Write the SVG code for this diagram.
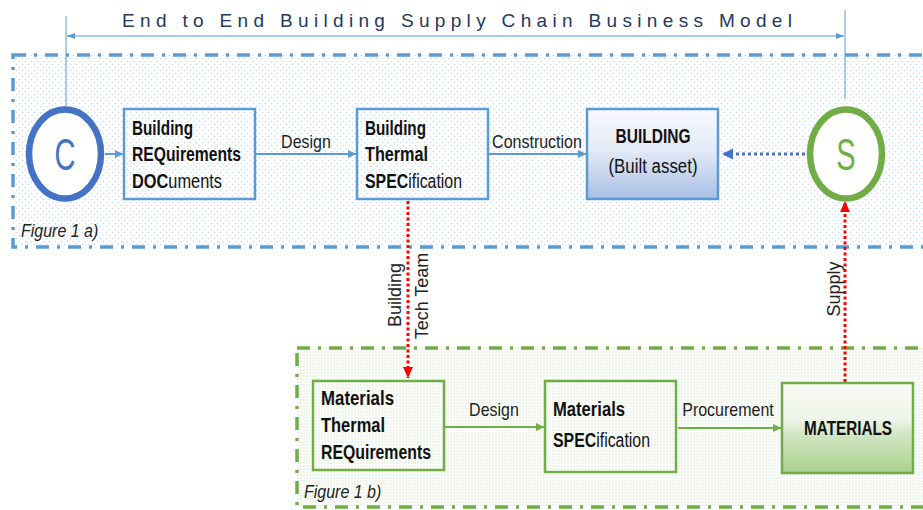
<svg xmlns="http://www.w3.org/2000/svg" width="923" height="510" viewBox="0 0 923 510">
<defs>
<style>
.t{font-family:"Liberation Sans",Arial,sans-serif;font-size:16px;fill:#111}
.b{font-weight:bold}
.lbl{font-family:"Liberation Sans",Arial,sans-serif;font-size:16px;fill:#222}
.vl{font-family:"Liberation Sans",Arial,sans-serif;font-size:18px;fill:#222}
.fig{font-family:"Liberation Sans",Arial,sans-serif;font-size:16px;font-style:italic;fill:#222}
.bbox{fill:none;stroke:#5B9BD5;stroke-width:2.5}
.gbox{fill:none;stroke:#70AD47;stroke-width:2.5}
.barr{stroke:#5B9BD5;stroke-width:2;fill:none}
.garr{stroke:#70AD47;stroke-width:2;fill:none}
.red{stroke:#FF0000;stroke-width:3;stroke-dasharray:3 2.5;fill:none}
</style>
<pattern id="pb" width="6" height="6" patternUnits="userSpaceOnUse"><rect width="6" height="6" fill="#FFFFFF"/><circle cx="1.5" cy="1.5" r="0.8" fill="#C5DAF0"/><circle cx="4.5" cy="4.5" r="0.8" fill="#C5DAF0"/></pattern>
<pattern id="pg" width="3" height="3" patternUnits="userSpaceOnUse"><rect width="3" height="3" fill="#FFFFFF"/><circle cx="1" cy="1" r="0.7" fill="#CFE3C0"/></pattern>
<linearGradient id="gbld" x1="0" y1="0" x2="0" y2="1"><stop offset="0" stop-color="#F7F9FD"/><stop offset="0.45" stop-color="#E4EBF7"/><stop offset="1" stop-color="#A9BFE6"/></linearGradient>
<linearGradient id="gmat" x1="0" y1="0" x2="0" y2="1"><stop offset="0" stop-color="#F8FAF5"/><stop offset="0.4" stop-color="#EEF4E8"/><stop offset="0.6" stop-color="#CFE4BF"/><stop offset="1" stop-color="#A9D18E"/></linearGradient>
<marker id="ab" markerWidth="9" markerHeight="9" refX="8" refY="4.5" orient="auto" markerUnits="userSpaceOnUse"><path d="M0,0.5 L8.5,4.5 L0,8.5 z" fill="#5B9BD5"/></marker>
<marker id="ag" markerWidth="9" markerHeight="9" refX="8" refY="4.5" orient="auto" markerUnits="userSpaceOnUse"><path d="M0,0.5 L8.5,4.5 L0,8.5 z" fill="#70AD47"/></marker>
<marker id="at" markerWidth="9" markerHeight="9" refX="8" refY="4.5" orient="auto-start-reverse" markerUnits="userSpaceOnUse"><path d="M0,1.5 L8,4.5 L0,7.5 z" fill="#5B9BD5"/></marker>
<marker id="ad" markerWidth="12" markerHeight="12" refX="11" refY="6" orient="auto" markerUnits="userSpaceOnUse"><path d="M0,0.5 L11,6 L0,11.5 z" fill="#4472C4"/></marker>
<marker id="ar" markerWidth="12" markerHeight="12" refX="11" refY="6" orient="auto" markerUnits="userSpaceOnUse"><path d="M0,1 L11,6 L0,11 z" fill="#FF0000"/></marker>
</defs>
<rect width="923" height="510" fill="#FFFFFF"/>

<g id="title">
<text x="122" y="27" textLength="670" lengthAdjust="spacing" style="font-family:'Liberation Sans',Arial,sans-serif;font-size:19px;fill:#233A5E">End to End Building Supply Chain Business Model</text>
</g>

<g id="frame-a">
<rect x="13" y="55" width="930" height="192" fill="url(#pb)" stroke="#5B9BD5" stroke-width="3.5" stroke-dasharray="13 8 3 8"/>
<text class="fig" transform="translate(21,237) scale(1,1.2)">Figure 1 a)</text>
</g>

<g id="frame-b">
<rect x="297" y="348" width="650" height="159" fill="url(#pg)" stroke="#70AD47" stroke-width="3.5" stroke-dasharray="13 8 3 8"/>
<text class="fig" transform="translate(304,498) scale(1,1.2)">Figure 1 b)</text>
</g>

<g id="connectors">
<line x1="66" y1="16" x2="66" y2="106" stroke="#5B9BD5" stroke-width="1"/>
<line x1="845" y1="10" x2="845" y2="99" stroke="#5B9BD5" stroke-width="1"/>
<line x1="67" y1="36" x2="844" y2="36" stroke="#5B9BD5" stroke-width="1.2" marker-start="url(#at)" marker-end="url(#at)"/>
<line x1="105" y1="154" x2="123" y2="154" class="barr" marker-end="url(#ab)"/>
<line x1="256" y1="154" x2="356" y2="154" class="barr" marker-end="url(#ab)"/>
<text class="lbl" transform="translate(306,148) scale(1,1.15)" text-anchor="middle">Design</text>
<line x1="489" y1="154" x2="586" y2="154" class="barr" marker-end="url(#ab)"/>
<text class="lbl" transform="translate(537,148) scale(1,1.15)" text-anchor="middle">Construction</text>
<line x1="805" y1="154" x2="722" y2="154" stroke="#4472C4" stroke-width="3" stroke-dasharray="3 3" marker-end="url(#ad)"/>
<line x1="408" y1="201" x2="408" y2="378" class="red" marker-end="url(#ar)"/>
<text class="vl" transform="translate(401,295) rotate(-90)" text-anchor="middle">Building</text>
<text class="vl" transform="translate(428,296) rotate(-90)" text-anchor="middle">Tech Team</text>
<line x1="845" y1="382" x2="845" y2="201" class="red" marker-end="url(#ar)"/>
<text class="vl" transform="translate(840,289) rotate(-90)" text-anchor="middle">Supply</text>
<line x1="445" y1="427" x2="544" y2="427" class="garr" marker-end="url(#ag)"/>
<text class="lbl" transform="translate(494,416) scale(1,1.15)" text-anchor="middle">Design</text>
<line x1="678" y1="428" x2="781" y2="428" class="garr" marker-end="url(#ag)"/>
<text class="lbl" transform="translate(728,416) scale(1,1.15)" text-anchor="middle">Procurement</text>
</g>

<g id="node-c">
<ellipse cx="65" cy="154" rx="36" ry="44.5" fill="#FFFFFF" stroke="#4472C4" stroke-width="6.5"/>
<text transform="translate(65,170) scale(1,1.5)" text-anchor="middle" style="font-family:'Liberation Sans',Arial,sans-serif;font-size:29px;fill:#4472C4">C</text>
</g>

<g id="node-s">
<ellipse cx="846" cy="154" rx="36" ry="44.5" fill="#FFFFFF" stroke="#70AD47" stroke-width="6.5"/>
<text transform="translate(846,170) scale(1,1.5)" text-anchor="middle" style="font-family:'Liberation Sans',Arial,sans-serif;font-size:29px;fill:#70AD47">S</text>
</g>

<g id="node-brd">
<rect x="124" y="109" width="131" height="90" fill="#FFFFFF" fill-opacity="0.4" class="bbox"/>
<text class="t b" transform="translate(132,135) scale(1,1.25)" textLength="61" lengthAdjust="spacingAndGlyphs">Building</text>
<text class="t b" transform="translate(132,161) scale(1,1.25)" textLength="109" lengthAdjust="spacingAndGlyphs">REQuirements</text>
<text class="t" transform="translate(132,188) scale(1,1.25)" textLength="90" lengthAdjust="spacingAndGlyphs"><tspan class="b">DOC</tspan>uments</text>
</g>

<g id="node-bts">
<rect x="357" y="109" width="131" height="90" fill="#FFFFFF" fill-opacity="0.4" class="bbox"/>
<text class="t b" transform="translate(365,135) scale(1,1.25)" textLength="61" lengthAdjust="spacingAndGlyphs">Building</text>
<text class="t b" transform="translate(365,161) scale(1,1.25)" textLength="63" lengthAdjust="spacingAndGlyphs">Thermal</text>
<text class="t" transform="translate(365,188) scale(1,1.25)" textLength="97" lengthAdjust="spacingAndGlyphs"><tspan class="b">SPEC</tspan>ification</text>
</g>

<g id="node-building">
<rect x="587" y="109" width="131" height="90" fill="url(#gbld)" stroke="#5B9BD5" stroke-width="2.5"/>
<text class="t b" transform="translate(653,143) scale(1,1.25)" text-anchor="middle" textLength="75" lengthAdjust="spacingAndGlyphs">BUILDING</text>
<text class="t" transform="translate(653,173) scale(1,1.25)" text-anchor="middle" textLength="89" lengthAdjust="spacingAndGlyphs">(Built asset)</text>
</g>

<g id="node-mtr">
<rect x="313" y="381" width="131" height="89" fill="#FFFFFF" fill-opacity="0.4" class="gbox"/>
<text class="t b" transform="translate(321,405) scale(1,1.25)" textLength="73" lengthAdjust="spacingAndGlyphs">Materials</text>
<text class="t b" transform="translate(321,432) scale(1,1.25)" textLength="64" lengthAdjust="spacingAndGlyphs">Thermal</text>
<text class="t b" transform="translate(321,459) scale(1,1.25)" textLength="110" lengthAdjust="spacingAndGlyphs">REQuirements</text>
</g>

<g id="node-mspec">
<rect x="545" y="381" width="131" height="91" fill="#FFFFFF" fill-opacity="0.4" class="gbox"/>
<text class="t b" transform="translate(553,416) scale(1,1.25)" textLength="72" lengthAdjust="spacingAndGlyphs">Materials</text>
<text class="t" transform="translate(553,447) scale(1,1.25)" textLength="97" lengthAdjust="spacingAndGlyphs"><tspan class="b">SPEC</tspan>ification</text>
</g>

<g id="node-materials">
<rect x="782" y="383" width="131" height="90" fill="url(#gmat)" stroke="#70AD47" stroke-width="2.5"/>
<text class="t b" transform="translate(848,435) scale(1,1.25)" text-anchor="middle" textLength="88" lengthAdjust="spacingAndGlyphs">MATERIALS</text>
</g>
</svg>
